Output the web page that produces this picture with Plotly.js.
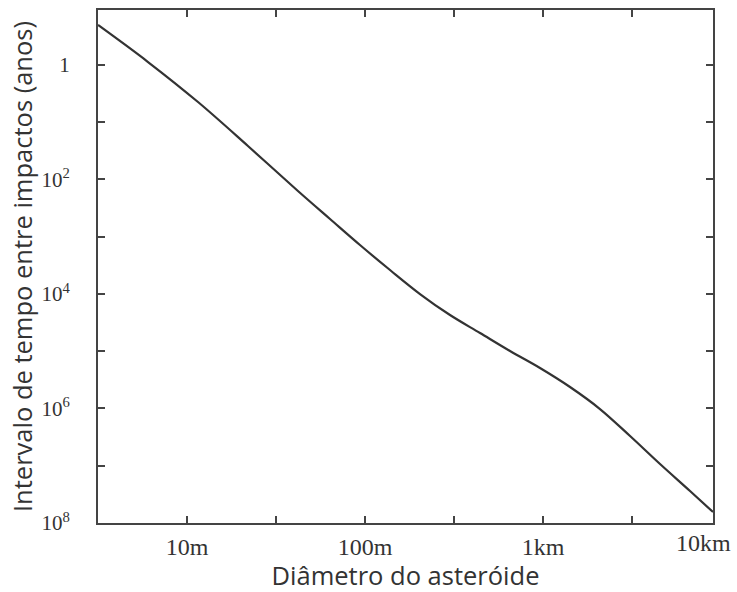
<!DOCTYPE html>
<html>
<head>
<meta charset="utf-8">
<script src="https://cdn.plot.ly/plotly-3.0.1.min.js"></script>
<style>html,body{margin:0;padding:0;background:#fff;}#chart{width:737px;height:592px;}</style>
</head>
<body>
<div id="chart"></div>
<script>
// Asteroid diameter (m) and mean interval between impacts (years)
var diameter = [3.162, 6.04, 11.53, 22.0, 42.0, 63.6, 93.7, 138.2, 203.7, 300.3, 442.7, 652.5, 961.8, 1418, 2090, 3083, 4544, 6697, 9016];
var interval = [0.2004, 0.888, 4.44, 26.0, 159.1, 490.6, 1396, 3815, 10016, 23310, 48080, 99150, 196500, 421900, 1.022e6, 3.027e6, 9.335e6, 2.765e7, 6.436e7];

var xTickVals = [10, 100, 1000];
var xTickText = ['10m', '100m', '1km'];
var xMinorVals = [31.62, 316.2, 3162];
var xEndLabel = '10km';

var yTickVals = [1, 100, 1e4, 1e6, 1e8];
var yTickText = ['1', '10<sup>2</sup>', '10<sup>4</sup>', '10<sup>6</sup>', '10<sup>8</sup>'];
var yMinorVals = [10, 1e3, 1e5, 1e7];

var trace = {
  x: diameter, y: interval, type: 'scatter', mode: 'lines',
  line: {color: '#333', width: 2.2, shape: 'spline', smoothing: 1},
  hoverinfo: 'none'
};

var xTickFont = {family: 'Liberation Serif, Times New Roman, serif', size: 24, color: '#333'};
var yTickFont = {family: 'Liberation Serif, Times New Roman, serif', size: 21, color: '#333'};
var xTitleFont = {family: 'Open Sans, sans-serif', size: 25.5, color: '#333'};
var yTitleFont = {family: 'Open Sans, sans-serif', size: 25.5, color: '#333'};

var tickStyle = {ticks: 'inside', ticklen: 7, tickwidth: 2, tickcolor: '#444'};

var layout = {
  width: 737, height: 592,
  margin: {l: 98, r: 24, t: 10, b: 69},
  paper_bgcolor: '#fff', plot_bgcolor: '#fff',
  showlegend: false,
  xaxis: Object.assign({
    type: 'log', range: [0.5, 3.955],
    tickvals: xTickVals, ticktext: xTickText,
    minor: Object.assign({tickvals: xMinorVals}, tickStyle),
    showline: true, linecolor: '#444', linewidth: 2, mirror: 'ticks',
    showgrid: false, zeroline: false,
    tickfont: xTickFont, ticklabelstandoff: 1,
    title: {text: 'Diâmetro do asteróide', font: xTitleFont, standoff: 3}
  }, tickStyle),
  yaxis: Object.assign({
    type: 'log', range: [8, -0.96],
    tickvals: yTickVals, ticktext: yTickText,
    minor: Object.assign({tickvals: yMinorVals}, tickStyle),
    showline: true, linecolor: '#444', linewidth: 2, mirror: 'ticks',
    showgrid: false, zeroline: false,
    tickfont: yTickFont, ticklabelstandoff: 22,
    title: {text: 'Intervalo de tempo entre impactos (anos)', font: yTitleFont, standoff: 2}
  }, tickStyle),
  annotations: [{
    text: xEndLabel, xref: 'paper', yref: 'paper', x: 1, y: 0,
    xanchor: 'center', yanchor: 'top', xshift: -10, yshift: -5,
    showarrow: false, font: xTickFont
  }]
};

Plotly.newPlot('chart', [trace], layout, {displayModeBar: false, staticPlot: true});
</script>
</body>
</html>
